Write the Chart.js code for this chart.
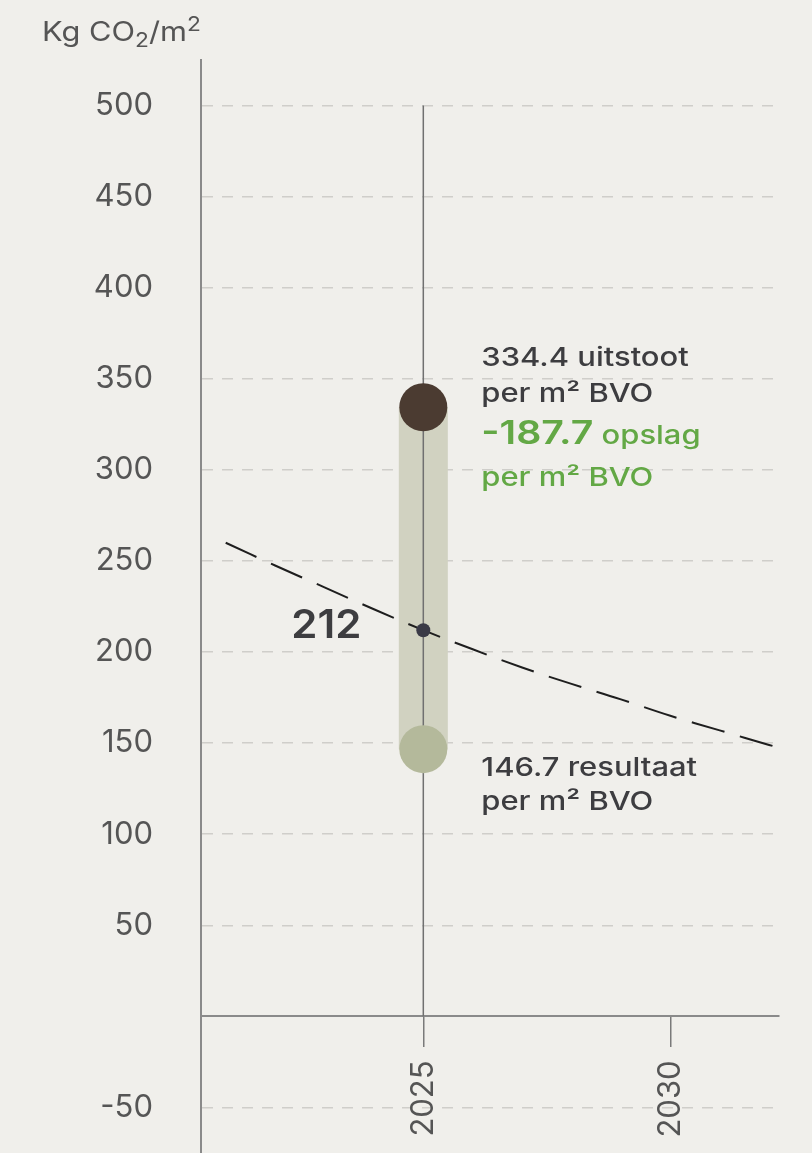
<!DOCTYPE html>
<html>
<head>
<meta charset="utf-8">
<script src="https://cdn.jsdelivr.net/npm/chart.js@4/dist/chart.umd.min.js"></script>
<style>
  html, body { margin: 0; padding: 0; background: #f0efeb; }
  canvas { display: block; }
</style>
</head>
<body>
<canvas id="chart" width="812" height="1153"></canvas>
<script>
// values
const trendYears  = [2021, 2022, 2023, 2024, 2025, 2026, 2027, 2028, 2029, 2030, 2031, 2032, 2033];
const trendValues = [260, 247.5, 235.5, 223.5, 212, 201.5, 191.5, 182.5, 174, 165, 157, 149, 141.5];

const markYear  = 2025;
const emission  = 334.4;   // uitstoot
const storage   = -187.7;  // opslag
const result    = 146.7;   // resultaat
const targetVal = 212;

const yTicks = [-50, 0, 50, 100, 150, 200, 250, 300, 350, 400, 450, 500];
const xTicks = [2025, 2030];
const yRange = [-75, 525];
const xRange = [2020.5, 2032.2];

const FONT = 'Inter, "Noto Sans", sans-serif';
const DARK = '#3d3d40';
const GREY = '#555';
const GREEN = '#63a845';
const WIDE = 1.19; // the original face is wider than Inter

// fill text stretched horizontally, returns drawn width
function wideText(ctx, text, x, y, sx) {
  ctx.save();
  ctx.translate(x, y);
  ctx.scale(sx, 1);
  ctx.fillText(text, 0, 0);
  const w = ctx.measureText(text).width * sx;
  ctx.restore();
  return w;
}

// "Kg CO2/m2" with real sub/superscript
const unitPlugin = {
  id: 'unit',
  afterDraw(chart) {
    const { ctx } = chart;
    ctx.save();
    ctx.fillStyle = GREY;
    ctx.textAlign = 'left';
    ctx.textBaseline = 'alphabetic';
    let x = 42;
    const base = 41;
    const parts = [
      ['Kg CO', 27, 0],
      ['2', 20, 6],
      ['/m', 27, 0],
      ['2', 20, -10],
    ];
    for (const [t, size, dy] of parts) {
      ctx.font = `400 ${size}px ${FONT}`;
      x += wideText(ctx, t, x, base + dy, 1.14);
    }
    ctx.restore();
  }
};

// text next to the marks
const notesPlugin = {
  id: 'notes',
  afterDatasetsDraw(chart) {
    const { ctx, scales: { x, y } } = chart;
    const px = x.getPixelForValue(markYear);
    const left = px + 58;
    ctx.save();
    ctx.textBaseline = 'alphabetic';
    ctx.textAlign = 'left';

    const yE = y.getPixelForValue(emission);
    ctx.fillStyle = DARK;
    ctx.font = `500 26px ${FONT}`;
    wideText(ctx, `${emission} uitstoot`, left, yE - 41, WIDE);
    wideText(ctx, 'per m² BVO', left, yE - 5, WIDE);

    ctx.fillStyle = GREEN;
    ctx.font = `600 33px ${FONT}`;
    const w = wideText(ctx, storage.toFixed(1), left, yE + 37, WIDE);
    ctx.font = `500 26px ${FONT}`;
    wideText(ctx, ' opslag', left + w, yE + 37, WIDE);
    wideText(ctx, 'per m² BVO', left, yE + 79, WIDE);

    const yR = y.getPixelForValue(result);
    ctx.fillStyle = DARK;
    wideText(ctx, `${result} resultaat`, left, yR + 27, WIDE);
    wideText(ctx, 'per m² BVO', left, yR + 61, WIDE);

    const yT = y.getPixelForValue(targetVal);
    ctx.textAlign = 'right';
    ctx.font = `600 40px ${FONT}`;
    wideText(ctx, String(targetVal), px - 62, yT + 8, 1.05);
    ctx.restore();
  }
};

new Chart(document.getElementById('chart'), {
  type: 'line',
  data: {
    datasets: [
      {
        // 212 dot
        data: [{ x: markYear, y: targetVal }],
        order: 0,
        showLine: false,
        pointRadius: 7,
        pointBackgroundColor: '#3a3a46',
        pointBorderWidth: 0,
      },
      {
        // emission and result circles
        data: [{ x: markYear, y: emission }, { x: markYear, y: result }],
        order: 1,
        showLine: false,
        pointRadius: 24,
        pointBackgroundColor: ['#4b3b31', '#b4b99b'],
        pointBorderWidth: 0,
      },
      {
        // dashed reduction path
        data: trendYears.map((yr, i) => ({ x: yr, y: trendValues[i] })),
        order: 2,
        borderColor: '#1e1e1e',
        borderWidth: 2,
        borderDash: [34, 16],
        tension: 0.4,
        pointRadius: 0,
      },
      {
        // vertical line at 2025
        data: [{ x: markYear, y: yTicks[yTicks.length - 1] }, { x: markYear, y: 0 }],
        order: 3,
        borderColor: '#707070',
        borderWidth: 1.5,
        pointRadius: 0,
      },
      {
        // storage span
        data: [{ x: markYear, y: emission }, { x: markYear, y: result }],
        order: 4,
        borderColor: '#d1d2c1',
        borderWidth: 49,
        borderCapStyle: 'butt',
        pointRadius: 0,
      },
    ]
  },
  options: {
    responsive: false,
    animation: false,
    layout: { autoPadding: false, padding: { left: 42, right: 33, top: 60, bottom: 0 } },
    plugins: {
      legend: { display: false },
      tooltip: { enabled: false },
      title: { display: false },
    },
    scales: {
      x: {
        type: 'linear',
        min: xRange[0],
        max: xRange[1],
        position: { y: 0 },
        afterBuildTicks: (s) => { s.ticks = xTicks.map(v => ({ value: v })); },
        afterFit: (s) => { s.height = 0; s.paddingLeft = 0; s.paddingRight = 0; },
        ticks: {
          minRotation: 90,
          maxRotation: 90,
          padding: 14,
          color: GREY,
          font: { family: FONT, size: 31, weight: '400' },
          callback: (v) => String(v),
        },
        grid: {
          drawOnChartArea: false,
          drawTicks: true,
          tickLength: 30,
          color: '#7a7a7a',
          lineWidth: 1.5,
        },
        border: { display: true, color: '#8a8a8a', width: 2 },
      },
      y: {
        type: 'linear',
        min: yRange[0],
        max: yRange[1],
        afterBuildTicks: (s) => { s.ticks = yTicks.map(v => ({ value: v })); },
        afterFit: (s) => { s.width = 159; s.paddingTop = 0; s.paddingBottom = 0; },
        ticks: {
          padding: 48,
          color: GREY,
          font: { family: FONT, size: 31, weight: '400' },
          callback: (v) => (v === 0 ? null : String(v)),
        },
        grid: {
          drawTicks: false,
          color: '#cfceca',
          lineWidth: 1.5,
        },
        border: { display: true, color: '#8a8a8a', width: 2, dash: [11, 9] },
      },
    },
  },
  plugins: [notesPlugin, unitPlugin],
});
</script>
</body>
</html>
